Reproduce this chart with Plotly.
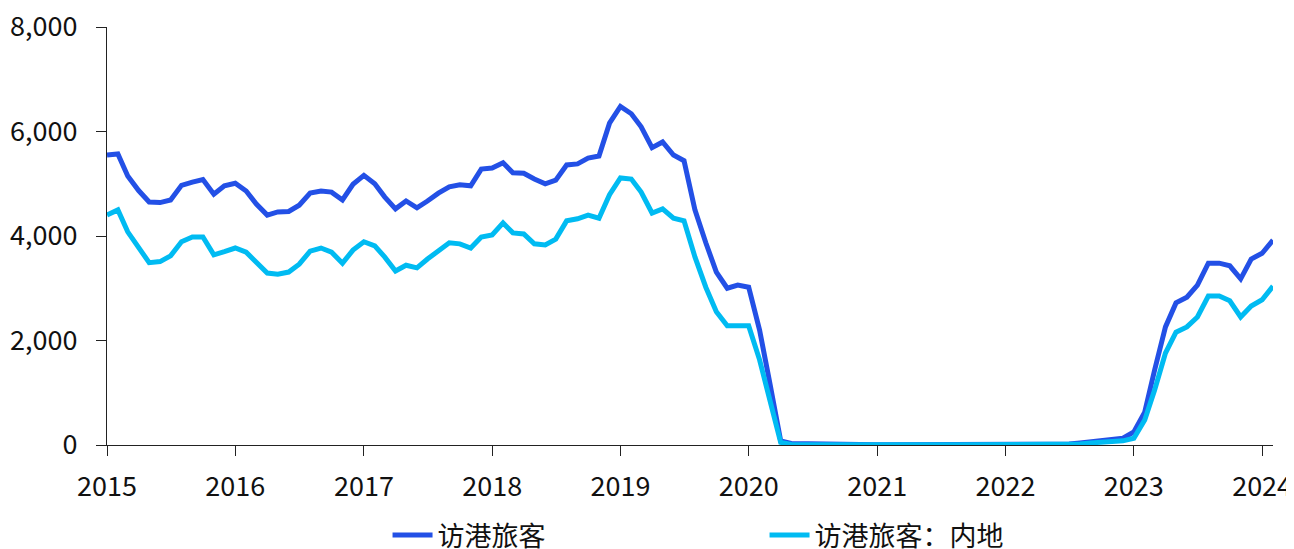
import plotly.graph_objects as go
import pandas as pd

months = pd.date_range("2015-01-01", "2024-02-01", freq="MS")

visitors_total = [
    # 2015
    5550, 5570, 5150, 4870, 4650, 4640, 4690, 4970, 5030, 5080, 4800, 4960,
    # 2016
    5010, 4860, 4610, 4400, 4460, 4470, 4590, 4820, 4860, 4840, 4690, 4990,
    # 2017
    5160, 5000, 4750, 4520, 4670, 4540, 4670, 4820, 4940, 4980, 4960, 5280,
    # 2018
    5300, 5400, 5210, 5200, 5090, 5000, 5070, 5360, 5380, 5490, 5530, 6160,
    # 2019
    6480, 6340, 6090, 5690, 5800, 5550, 5440, 4500, 3870, 3310, 3000, 3060,
    # 2020
    3020, 2200, 1190, 80, 30, 25, 20, 10, 8, 8, 8, 8,
    # 2021
    6, 6, 6, 6, 6, 6, 6, 6, 6, 6, 6, 6,
    # 2022
    6, 6, 6, 6, 6, 10, 20, 40, 60, 70, 90, 130,
    # 2023
    250, 630, 1430, 2260, 2720, 2830, 3060, 3480, 3480, 3430, 3180, 3560,
    # 2024
    3670, 3920,
]

visitors_mainland = [
    # 2015
    4400, 4500, 4080, 3790, 3490, 3510, 3620, 3890, 3980, 3980, 3640, 3700,
    # 2016
    3770, 3690, 3480, 3290, 3270, 3310, 3460, 3710, 3770, 3690, 3480, 3730,
    # 2017
    3890, 3810, 3600, 3330, 3440, 3390, 3560, 3730, 3870, 3850, 3770, 3980,
    # 2018
    4020, 4250, 4060, 4040, 3850, 3830, 3940, 4290, 4330, 4400, 4340, 4790,
    # 2019
    5110, 5090, 4840, 4440, 4520, 4340, 4290, 3600, 3020, 2550, 2280, 2280,
    # 2020
    2280, 1630, 860, 50, 10, 8, 5, 5, 5, 3, 3, 3,
    # 2021
    3, 3, 3, 3, 3, 3, 3, 3, 3, 3, 3, 3,
    # 2022
    3, 3, 3, 3, 3, 5, 10, 20, 40, 50, 60, 80,
    # 2023
    130, 480, 1050, 1760, 2160, 2260, 2450, 2850, 2850, 2760, 2450, 2660,
    # 2024
    2780, 3040,
]

series_names = ["访港旅客", "访港旅客：内地"]
series_colors = ["#2350E6", "#00BBF2"]
year_ticks = [f"{y}-01-01" for y in range(2015, 2025)]
year_labels = [str(y) for y in range(2015, 2025)]

FONT = "Noto Sans CJK SC"

fig = go.Figure()
for name, vals, col in zip(series_names, [visitors_total, visitors_mainland], series_colors):
    fig.add_trace(go.Scatter(
        x=months, y=vals, name=name, mode="lines",
        line=dict(color=col, width=5),
    ))

# page body has an 8px margin, so the figure is offset by 8px
fig.update_layout(
    width=1286, height=541,
    margin=dict(l=99, r=21, t=19, b=104, autoexpand=False),
    paper_bgcolor="white", plot_bgcolor="white",
    font=dict(family=FONT, size=27, color="#111111"),
    showlegend=True,
    legend=dict(
        orientation="h", x=0.2406, xanchor="left", y=-0.158, yanchor="top",
        font=dict(family=FONT, size=27, color="#111111"),
        entrywidth=322, itemwidth=40, bgcolor="rgba(0,0,0,0)",
    ),
)
fig.update_xaxes(
    range=["2015-01-01", "2024-02-01"],
    tickvals=year_ticks, ticktext=year_labels,
    showgrid=False, zeroline=False, automargin=False,
    showline=True, linecolor="#222222", linewidth=1.3,
    ticks="outside", ticklen=10, tickwidth=1.3, tickcolor="#222222",
    ticklabelstandoff=7, ticklabeloverflow="allow",
    tickfont=dict(family=FONT, size=27, color="#111111"),
)
fig.update_yaxes(
    range=[0, 8000], tickvals=[0, 2000, 4000, 6000, 8000],
    tickformat=",d",
    showgrid=False, zeroline=False, automargin=False,
    showline=True, linecolor="#222222", linewidth=1.3,
    ticks="outside", ticklen=10, tickwidth=1.3, tickcolor="#222222",
    ticklabelstandoff=13, ticklabeloverflow="allow",
    tickfont=dict(family=FONT, size=27, color="#111111"),
)

fig.write_html("out.html")
